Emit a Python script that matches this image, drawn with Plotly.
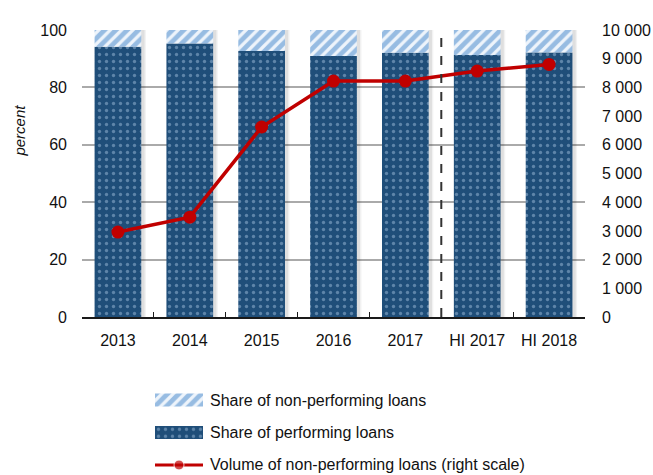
import plotly.graph_objects as go

## data
years = ['2013', '2014', '2015', '2016', '2017', 'HI 2017', 'HI 2018']
performing = [94.2, 95.3, 92.7, 90.9, 92.1, 91.3, 92.2]
non_performing = [round(100 - p, 1) for p in performing]
npl_volume = [2960, 3480, 6620, 8220, 8220, 8570, 8800]

legend_labels = ['Share of non-performing loans',
                 'Share of performing loans',
                 'Volume of non-performing loans (right scale)']

font = 'Liberation Sans, Arial, sans-serif'
dark_blue = '#1f4e79'
npl_pattern = dict(shape='/', fgcolor='#3f83c9', bgcolor='#eef4fb', size=8, solidity=0.6)
perf_pattern = dict(shape='.', fgcolor='#9dbbd9', bgcolor=dark_blue, size=7, solidity=0.18)
red = '#c00000'

fig = go.Figure()

# soft shadow behind the stacked bars
totals = [p + n for p, n in zip(performing, non_performing)]
for off, alpha in [(-0.27, 0.05), (-0.29, 0.08)]:
    fig.add_trace(go.Bar(
            x=years, y=totals, width=0.66, offset=off,
            marker=dict(color='rgba(0,0,0,%s)' % alpha, line_width=0),
            showlegend=False, hoverinfo='skip'))

fig.add_trace(go.Bar(
        x=years, y=performing, name=legend_labels[1],
        width=0.65, offset=-0.325,
        marker=dict(color=dark_blue, line_width=0, pattern=perf_pattern),
        showlegend=False))

fig.add_trace(go.Bar(
        x=years, y=non_performing, base=performing, name=legend_labels[0],
        width=0.65, offset=-0.325,
        marker=dict(color='#5b9bd5', line_width=0, pattern=npl_pattern),
        showlegend=False))

fig.add_trace(go.Scatter(
        x=years, y=npl_volume, yaxis='y2', name=legend_labels[2],
        mode='lines+markers',
        line=dict(color=red, width=3.5),
        marker=dict(color=red, size=13),
        showlegend=False))

## hand-made legend (wide swatches like the original)
fig.add_trace(go.Bar(x=[1], y=[2], orientation='h', width=0.4, xaxis='x3', yaxis='y3',
                     marker=dict(color='#5b9bd5', line_width=0, pattern=npl_pattern),
                     showlegend=False, hoverinfo='skip'))
fig.add_trace(go.Bar(x=[1], y=[1], orientation='h', width=0.4, xaxis='x3', yaxis='y3',
                     marker=dict(color=dark_blue, line_width=0, pattern=perf_pattern),
                     showlegend=False, hoverinfo='skip'))
fig.add_trace(go.Scatter(x=[0, 0.5, 1], y=[0, 0, 0], xaxis='x3', yaxis='y3',
                         mode='lines+markers', line=dict(color=red, width=3),
                         marker=dict(color=red, size=[0, 10, 0]),
                         showlegend=False, hoverinfo='skip'))
for row, label in zip([2, 1, 0], legend_labels):
    fig.add_annotation(text=label, xref='paper', yref='y3', x=0.2505, y=row,
                       xanchor='left', yanchor='middle', showarrow=False,
                       font=dict(size=16))

# axis title sits above the middle of the axis in the original
fig.add_annotation(text='<i>percent</i>', xref='paper', yref='y', x=-0.125, y=65,
                   textangle=-90, showarrow=False, xanchor='center', yanchor='middle',
                   font=dict(size=15))

fig.add_shape(type='line', xref='x', yref='y', x0=4.5, x1=4.5, y0=0, y1=100,
              line=dict(color='#333333', width=2, dash='dash'))

fig.update_layout(
        width=653, height=475,
        margin=dict(l=82, r=68, t=30, b=0, autoexpand=False),
        paper_bgcolor='white', plot_bgcolor='white',
        barmode='overlay',
        separators='. ',
        font=dict(family=font, size=16, color='#111111'),
        xaxis=dict(domain=[0, 1], anchor='y', showline=True, linecolor='#1a1a1a', linewidth=1.5,
                   ticks='inside', tickson='boundaries', ticklen=5,
                   tickcolor='#1a1a1a', ticklabelstandoff=8, automargin=False,
                   range=[-0.5, 6.5]),
        yaxis=dict(domain=[0.355, 1], range=[0, 100], dtick=20, showgrid=True,
                   gridcolor='#aaaaaa', gridwidth=1.5, zeroline=False,
                   ticks='', ticklabelstandoff=14, automargin=False),
        yaxis2=dict(range=[0, 10000], dtick=1000, overlaying='y', side='right',
                    showgrid=False, zeroline=False, tickformat=',',
                    ticks='', ticklabelstandoff=16, automargin=False),
        xaxis3=dict(domain=[0.1451, 0.2406], anchor='y3', range=[0, 1],
                    visible=False, fixedrange=True),
        yaxis3=dict(domain=[0.0006, 0.205], anchor='x3', range=[-0.3, 2.5],
                    visible=False, fixedrange=True),
        showlegend=False,
)

# drop the browser's default 8px page margin so the figure fills the window
fig.write_html("out.html", config={'displayModeBar': False},
               post_script="document.body.style.margin='0';")
